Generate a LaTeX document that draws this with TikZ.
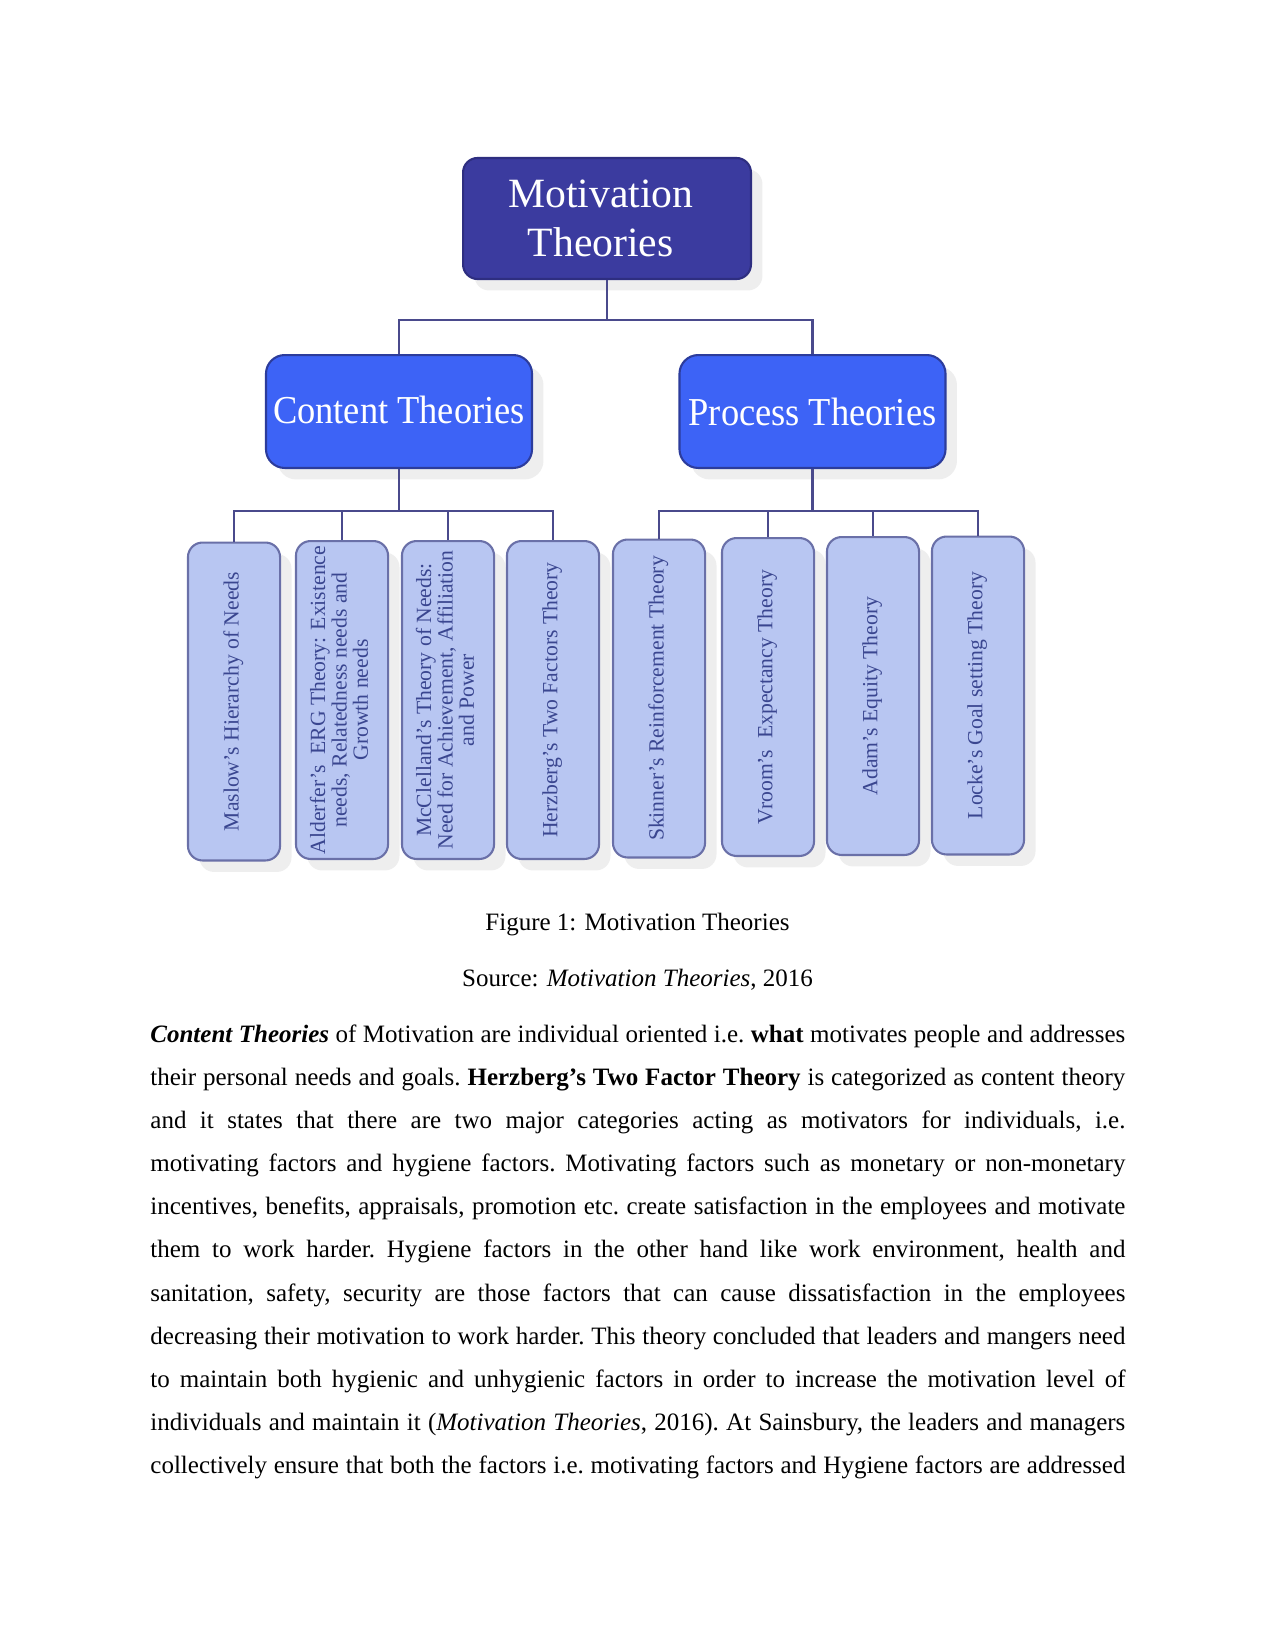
\documentclass[tikz,border=0pt]{standalone}
\usepackage{fontspec}
\setmainfont{Liberation Serif}
\usetikzlibrary{shadows}
\definecolor{topblue}{HTML}{3B3B9F}
\definecolor{topborder}{HTML}{2E2E80}
\definecolor{midblue}{HTML}{3D63F6}
\definecolor{midborder}{HTML}{2C3C9C}
\definecolor{leaffill}{HTML}{B8C6F2}
\definecolor{leafborder}{HTML}{6A70A8}
\definecolor{leaftext}{HTML}{3A4690}
\definecolor{linkcol}{HTML}{4A4A8C}
\newcommand{\leaflines}[1]{\rotatebox{90}{\fontsize{10.4}{10}\selectfont\begin{tabular}{@{}c@{}}#1\end{tabular}}}
\newcommand{\pline}[1]{\hbox to 468pt{#1}}
\begin{document}
\begin{tikzpicture}[x=0.48pt,y=-0.48pt,
  shadowed/.style={drop shadow={shadow xshift=5.5pt,shadow yshift=-5.5pt,fill=black!13}},
  topbox/.style={shadowed,draw=topborder,line width=1pt,fill=topblue,rounded corners=7pt,
    minimum width=138.2pt,minimum height=58.1pt,text=white,align=center,
    font=\fontsize{20}{23.5}\selectfont},
  midbox/.style={shadowed,draw=midborder,line width=1pt,fill=midblue,rounded corners=9pt,
    minimum width=127.7pt,minimum height=54.2pt,inner sep=0pt,text=white,
    font=\fontsize{19}{22}\selectfont},
  leafbox/.style={shadowed,draw=leafborder,line width=1pt,fill=leaffill,rounded corners=7pt,
    minimum width=44.2pt,minimum height=152.6pt,text=leaftext,inner sep=0pt},
  link/.style={draw=linkcol,line width=1.1pt},
  plain/.style={inner sep=0pt,font=\fontsize{12}{13.8}\selectfont}
]
\useasboundingbox[fill=white] (0,0) rectangle (1275,1651);

% top level
\node[topbox] (top) at (607,218.5) {\hspace*{-6pt}Motivation\\\hspace*{-6pt}Theories};
% second level
\node[midbox] (content) at (399,411.5) {\raisebox{1.5pt}{\scalebox{0.92}[1]{Content Theories}}};
\node[midbox] (process) at (812.5,411.5) {\scalebox{0.92}[1]{Process Theories}};

% leaves
\node[leafbox] (l1) at (234,701.5) {\leaflines{Maslow’s Hierarchy of Needs}};
\node[leafbox] (l2) at (342,700) {\leaflines{Alderfer’s\ \ ERG Theory: Existence\\ needs, Relatedness needs and\\ Growth needs}};
\node[leafbox] (l3) at (448,700) {\leaflines{McClelland’s Theory of Needs:\\ Need for Achievement, Affiliation\\ and Power}};
\node[leafbox] (l4) at (553,700) {\leaflines{Herzberg’s Two Factors Theory}};
\node[leafbox] (l5) at (659,698.5) {\leaflines{Skinner’s Reinforcement Theory}};
\node[leafbox] (l6) at (768,697) {\leaflines{Vroom’s\ \ Expectancy Theory}};
\node[leafbox] (l7) at (873,696) {\leaflines{Adam’s Equity Theory}};
\node[leafbox] (l8) at (978,695.5) {\leaflines{Locke’s Goal setting Theory}};

% connectors
\coordinate (bus1) at (607,320);
\coordinate (bus2) at (399,511);
\coordinate (bus3) at (812.5,511);
\draw[link] (top.south) -- (top.south |- bus1) -| (content.north);
\draw[link] (top.south |- bus1) -| (process.north);
\draw[link] (content.south) -- (content.south |- bus2) -| (l1.north);
\draw[link] (content.south |- bus2) -| (l2.north);
\draw[link] (content.south |- bus2) -| (l3.north);
\draw[link] (content.south |- bus2) -| (l4.north);
\draw[link] (process.south) -- (process.south |- bus3) -| (l5.north);
\draw[link] (process.south |- bus3) -| (l6.north);
\draw[link] (process.south |- bus3) -| (l7.north);
\draw[link] (process.south |- bus3) -| (l8.north);

% caption
\node[plain,anchor=base] (cap) at (637.5,930) {Figure 1: Motivation Theories};
\node[plain,anchor=base] (src) at (637.5,986) {Source: \textit{Motivation Theories}, 2016};

% paragraph
\node[plain,anchor=base west] (para) at (150,1042) {\frenchspacing\vtop{\hsize=468pt\baselineskip=20.72pt
\pline{\textbf{\textit{Content Theories}} of Motivation are individual oriented i.e. \textbf{what} motivates people and addresses}
\pline{their personal needs and goals. \textbf{Herzberg’s Two Factor Theory} is categorized as content theory}
\pline{and it states that there are two major categories acting as motivators for individuals, i.e.}
\pline{motivating factors and hygiene factors. Motivating factors such as monetary or non-monetary}
\pline{incentives, benefits, appraisals, promotion etc. create satisfaction in the employees and motivate}
\pline{them to work harder. Hygiene factors in the other hand like work environment, health and}
\pline{sanitation, safety, security are those factors that can cause dissatisfaction in the employees}
\pline{decreasing their motivation to work harder. This theory concluded that leaders and mangers need}
\pline{to maintain both hygienic and unhygienic factors in order to increase the motivation level of}
\pline{individuals and maintain it (\textit{Motivation Theories}, 2016). At Sainsbury, the leaders and managers}
\pline{collectively ensure that both the factors i.e. motivating factors and Hygiene factors are addressed}}};
\end{tikzpicture}
\end{document}
